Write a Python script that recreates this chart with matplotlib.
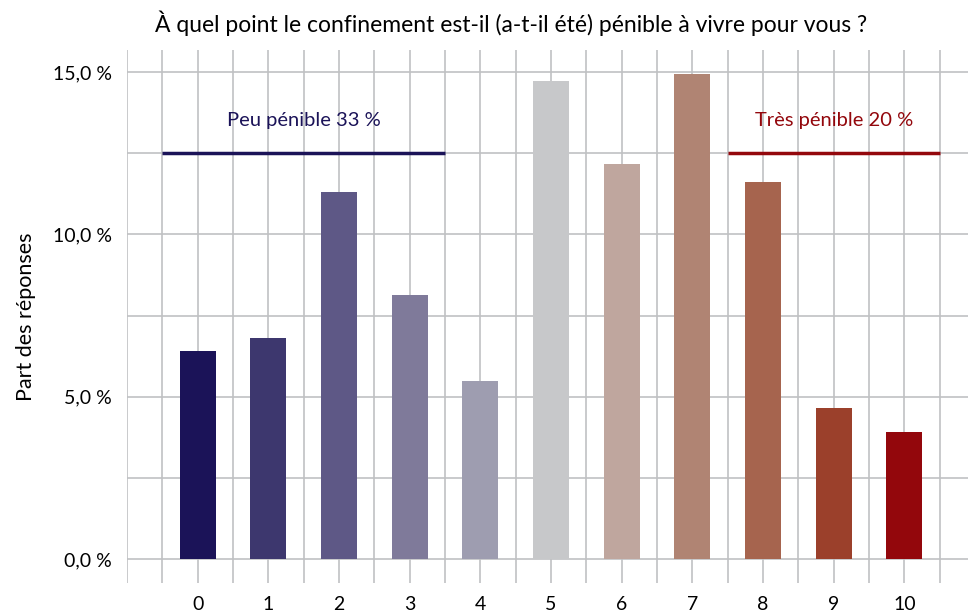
import matplotlib
matplotlib.use("Agg")
import matplotlib.pyplot as plt
import numpy as np

plt.rcParams['font.family'] = ['Lato', 'DejaVu Sans']

# data
scores = list(range(11))
shares = [6.41, 6.81, 11.30, 8.13, 5.48, 14.72, 12.17, 14.94, 11.61, 4.65, 3.91]
colors = ['#1b1358', '#3d376e', '#5e5886', '#7f7a9a', '#9e9db0', '#c7c8ca',
          '#bfa69e', '#b08473', '#a6644e', '#9b402b', '#93070c']
ytick_vals = [0, 5, 10, 15]
ytick_labels = ['0,0 %', '5,0 %', '10,0 %', '15,0 %']
groups = [("Peu pénible 33 %", -0.5, 3.5, '#1b1358'),
          ("Très pénible 20 %", 7.5, 10.5, '#93070c')]
group_level = 12.5

fig = plt.figure(figsize=(9.68, 6.15), dpi=100)
ax = fig.add_axes([0.1312, 0.052, 0.8688, 0.8668])

grid_c = '#c0c1c3'
for x in np.arange(-1, 11, 0.5):
    ax.axvline(x, color=grid_c, lw=1.2, zorder=0)
for y in np.arange(0, 15.1, 2.5):
    ax.axhline(y, color=grid_c, lw=1.2, zorder=0)

ax.bar(scores, shares, width=0.51, color=colors, zorder=2)

for label, x0, x1, c in groups:
    ax.plot([x0, x1], [group_level, group_level], color=c, lw=2.5, zorder=3,
            solid_capstyle='butt')
    ax.text((x0 + x1) / 2, 13.5, label, color=c,
            fontsize=14.5, ha='center', va='center')

ax.set_xlim(-1, 10.9)
ax.set_ylim(-0.74, 15.68)
ax.set_xticks(scores)
ax.set_xticklabels([str(s) for s in scores], fontsize=14)
ax.set_yticks(ytick_vals)
ax.set_yticklabels(ytick_labels, fontsize=14)
ax.tick_params(length=0)
ax.tick_params(axis='y', pad=11)
ax.tick_params(axis='x', pad=9)
for s in ax.spines.values():
    s.set_visible(False)

ax.set_ylabel('Part des réponses', fontsize=15.5, labelpad=12)
fig.text(0.528, 0.963, 'À quel point le confinement est-il (a-t-il été) pénible à vivre pour vous ?',
         ha='center', va='center', fontsize=16.5)

fig.savefig('out.png', dpi=100)
